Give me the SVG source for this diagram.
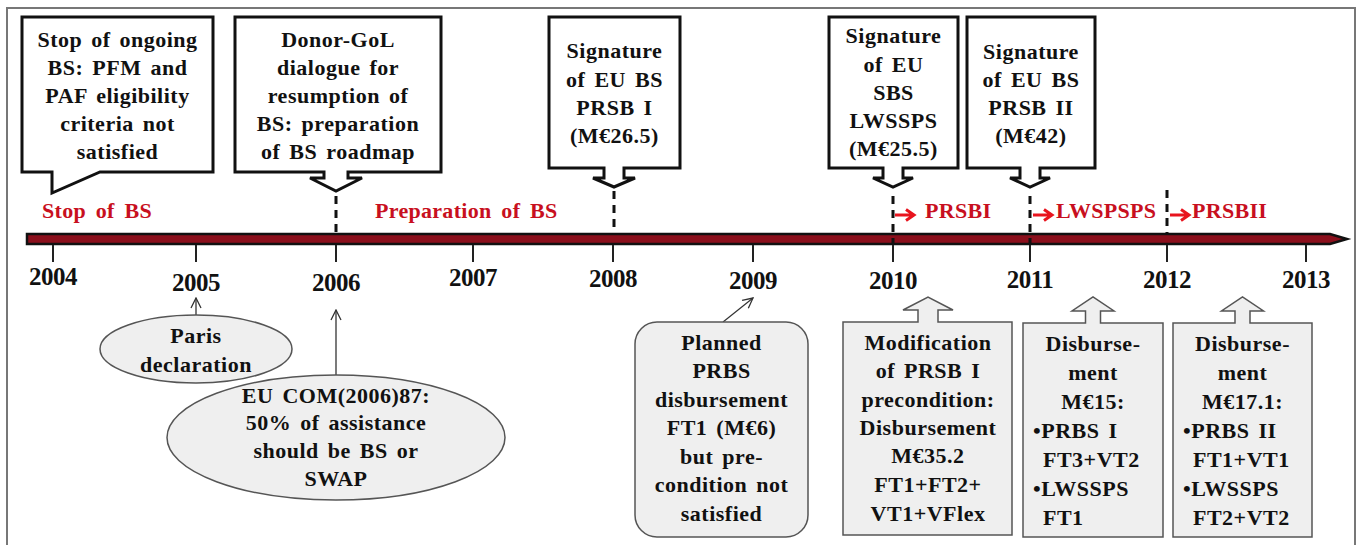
<svg xmlns="http://www.w3.org/2000/svg" width="1360" height="545" viewBox="0 0 1360 545">
<style>
text{font-family:"Liberation Serif","Times New Roman",serif;font-weight:bold}
.t{font-size:22px;fill:#111;text-anchor:middle;letter-spacing:0.5px;word-spacing:3px}
.ts{font-size:22px;fill:#111;text-anchor:start;letter-spacing:0.5px;word-spacing:3px}
.yr{font-size:25px;fill:#111;text-anchor:middle;letter-spacing:-0.5px}
.red{font-size:22px;fill:#C80F20;word-spacing:4px;letter-spacing:0.3px}
.call{fill:#fff;stroke:#111;stroke-width:3;stroke-linejoin:miter}
.box{fill:#EFEFEF;stroke:#555;stroke-width:1.5}
.dash{stroke:#111;stroke-width:3;stroke-dasharray:8 6;fill:none}
.tick{stroke:#222;stroke-width:2}
.thin{stroke:#333;stroke-width:1.3;fill:none;marker-end:url(#open)}
.rarr{stroke:#E8141E;stroke-width:3;fill:none}
</style>
<defs>
<marker id="open" viewBox="0 0 12 12" refX="11" refY="6" markerWidth="12" markerHeight="12" markerUnits="userSpaceOnUse" orient="auto">
<path d="M1,1 L11,6 L1,11" fill="none" stroke="#333" stroke-width="1.3"/>
</marker>
</defs>
<rect x="0" y="0" width="1360" height="545" fill="#fff"/>
<rect x="7" y="8" width="1348" height="560" fill="#fff" stroke="#777" stroke-width="2"/>

<g id="axis">
<path d="M27,234 H1330 L1347,239 L1330,244 H27 Z" fill="#8B0F1C" stroke="#111" stroke-width="2.5"/>
<g class="ticks">
<line class="tick" x1="53" y1="245" x2="53" y2="262"/>
<line class="tick" x1="196" y1="245" x2="196" y2="262"/>
<line class="tick" x1="336" y1="245" x2="336" y2="262"/>
<line class="tick" x1="473" y1="245" x2="473" y2="262"/>
<line class="tick" x1="613" y1="245" x2="613" y2="262"/>
<line class="tick" x1="753" y1="245" x2="753" y2="262"/>
<line class="tick" x1="893" y1="245" x2="893" y2="262"/>
<line class="tick" x1="1030" y1="245" x2="1030" y2="262"/>
<line class="tick" x1="1167" y1="245" x2="1167" y2="262"/>
<line class="tick" x1="1306" y1="245" x2="1306" y2="262"/>
</g>
<text class="yr" x="53" y="285">2004</text>
<text class="yr" x="196" y="291">2005</text>
<text class="yr" x="336" y="291">2006</text>
<text class="yr" x="473" y="286">2007</text>
<text class="yr" x="613" y="287">2008</text>
<text class="yr" x="753" y="289">2009</text>
<text class="yr" x="893" y="289">2010</text>
<text class="yr" x="1030" y="288">2011</text>
<text class="yr" x="1167" y="288">2012</text>
<text class="yr" x="1306" y="288">2013</text>
</g>

<g id="phase-labels">
<text class="red" x="42" y="218">Stop of BS</text>
<text class="red" x="375" y="218">Preparation of BS</text>
<text class="red" x="925" y="218">PRSBI</text>
<text class="red" x="1056" y="218">LWSPSPS</text>
<text class="red" x="1192" y="218">PRSBII</text>
</g>

<g id="connectors">
<line class="dash" x1="336" y1="196" x2="336" y2="234"/>
<line class="dash" x1="614" y1="191" x2="614" y2="234"/>
<line class="dash" x1="893" y1="196" x2="893" y2="244"/>
<line class="dash" x1="1030" y1="196" x2="1030" y2="244"/>
<line class="dash" x1="1167" y1="190" x2="1167" y2="234"/>
<path class="rarr" d="M895,215 H914 M906,209.5 L914,215 L906,220.5"/>
<path class="rarr" d="M1033,215 H1052 M1044,209.5 L1052,215 L1044,220.5"/>
<path class="rarr" d="M1170,215 H1189 M1181,209.5 L1189,215 L1181,220.5"/>
<line class="thin" x1="196" y1="315" x2="196" y2="298"/>
<line class="thin" x1="336" y1="375" x2="336" y2="310"/>
<line class="thin" x1="723" y1="322" x2="753" y2="298"/>
</g>

<g id="callout-stop">
<path class="call" d="M22,17 H213 V172 H100 L52,193 V172 H22 Z"/>
<text class="t" x="117.5" y="47">Stop of ongoing</text>
<text class="t" x="117.5" y="75">BS: PFM and</text>
<text class="t" x="117.5" y="103">PAF eligibility</text>
<text class="t" x="117.5" y="131">criteria not</text>
<text class="t" x="117.5" y="159">satisfied</text>
</g>

<g id="callout-dialogue">
<path class="call" d="M235,17 H441 V172 H348 V178 H362 L336,191 L310,178 H324 V172 H235 Z"/>
<text class="t" x="338" y="47">Donor-GoL</text>
<text class="t" x="338" y="75">dialogue for</text>
<text class="t" x="338" y="103">resumption of</text>
<text class="t" x="338" y="131">BS: preparation</text>
<text class="t" x="338" y="159">of BS roadmap</text>
</g>

<g id="callout-prsb1">
<path class="call" d="M549,17 H680 V168 H624 V178 H635 L614,187 L593,178 H604 V168 H549 Z"/>
<text class="t" x="614.5" y="58">Signature</text>
<text class="t" x="614.5" y="87">of EU BS</text>
<text class="t" x="614.5" y="115">PRSB I</text>
<text class="t" x="614.5" y="143">(M€26.5)</text>
</g>

<g id="callout-lwsspS">
<path class="call" d="M829,17 H958 V168 H903 V178 H913 L893,187 L873,178 H883 V168 H829 Z"/>
<text class="t" x="893.5" y="43">Signature</text>
<text class="t" x="893.5" y="72">of EU</text>
<text class="t" x="893.5" y="100">SBS</text>
<text class="t" x="893.5" y="128">LWSSPS</text>
<text class="t" x="893.5" y="156">(M€25.5)</text>
</g>

<g id="callout-prsb2">
<path class="call" d="M967,17 H1095 V168 H1040 V178 H1050 L1030,187 L1010,178 H1020 V168 H967 Z"/>
<text class="t" x="1031" y="59">Signature</text>
<text class="t" x="1031" y="87">of EU BS</text>
<text class="t" x="1031" y="115">PRSB II</text>
<text class="t" x="1031" y="143">(M€42)</text>
</g>

<g id="paris">
<ellipse class="box" cx="196" cy="349" rx="96" ry="34"/>
<text class="t" x="196" y="343">Paris</text>
<text class="t" x="196" y="372">declaration</text>
</g>

<g id="eu-com">
<ellipse class="box" cx="336" cy="437.5" rx="169" ry="62.5"/>
<text class="t" x="336" y="403">EU COM(2006)87:</text>
<text class="t" x="336" y="430">50% of assistance</text>
<text class="t" x="336" y="458">should be BS or</text>
<text class="t" x="336" y="486">SWAP</text>
</g>

<g id="planned">
<rect class="box" x="635" y="322" width="173" height="215" rx="22" ry="22"/>
<text class="t" x="721.5" y="350">Planned</text>
<text class="t" x="721.5" y="378">PRBS</text>
<text class="t" x="721.5" y="407">disbursement</text>
<text class="t" x="721.5" y="435">FT1 (M€6)</text>
<text class="t" x="721.5" y="464">but pre-</text>
<text class="t" x="721.5" y="492">condition not</text>
<text class="t" x="721.5" y="521">satisfied</text>
</g>

<g id="modification">
<path class="box" d="M843,322 H918 V310 H903 L928,297 L953,310 H938 V322 H1012 V535 H843 Z"/>
<text class="t" x="928" y="350">Modification</text>
<text class="t" x="928" y="378">of PRSB I</text>
<text class="t" x="928" y="407">precondition:</text>
<text class="t" x="928" y="435">Disbursement</text>
<text class="t" x="928" y="463">M€35.2</text>
<text class="t" x="928" y="492">FT1+FT2+</text>
<text class="t" x="928" y="521">VT1+VFlex</text>
</g>

<g id="disb-2011">
<path class="box" d="M1023,323 H1085.5 V311 H1072 L1093,297 L1114,311 H1100.5 V323 H1163 V537 H1023 Z"/>
<text class="t" x="1093" y="351">Disburse-</text>
<text class="t" x="1093" y="380">ment</text>
<text class="t" x="1093" y="409">M€15:</text>
<text class="ts" x="1033" y="438">•PRBS I</text>
<text class="ts" x="1043" y="467">FT3+VT2</text>
<text class="ts" x="1033" y="496">•LWSSPS</text>
<text class="ts" x="1043" y="525">FT1</text>
</g>

<g id="disb-2012">
<path class="box" d="M1173,323 H1235 V311 H1221.5 L1242.5,297 L1263.5,311 H1250 V323 H1312 V537 H1173 Z"/>
<text class="t" x="1242.5" y="351">Disburse-</text>
<text class="t" x="1242.5" y="380">ment</text>
<text class="t" x="1242.5" y="409">M€17.1:</text>
<text class="ts" x="1183" y="438">•PRBS II</text>
<text class="ts" x="1193" y="467">FT1+VT1</text>
<text class="ts" x="1183" y="496">•LWSSPS</text>
<text class="ts" x="1193" y="525">FT2+VT2</text>
</g>
</svg>
